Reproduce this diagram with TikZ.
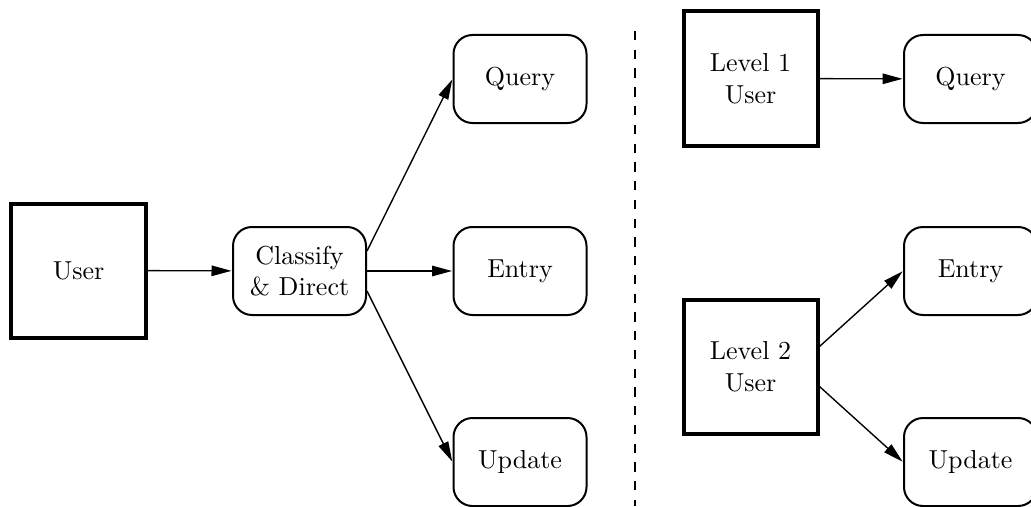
\documentclass[tikz,border=0pt]{standalone}
\usetikzlibrary{arrows.meta}
\begin{document}
\begin{tikzpicture}[x=0.4pt, y=-0.4pt,
  every node/.style={font=\fontsize{10.4}{12.7}\selectfont, align=center, inner sep=0pt},
  actor/.style={draw, line width=1.6pt, minimum width=53.6pt, minimum height=53.6pt},
  task/.style={draw, line width=0.8pt, rounded corners=7.6pt, minimum width=53.2pt, minimum height=35.2pt},
  link/.style={line width=0.55pt, -{Triangle[length=8pt, width=4.2pt]}, shorten >=0.2pt},
  divider/.style={line width=0.5pt, dash pattern=on 3.7pt off 3.8pt}]
  \useasboundingbox (0,0) rectangle (1031,506);

  % left: one user routed through a classifier
  \node[actor] (user) at (78.5,270.5) {User};
  \node[task] (cls) at (299.5,271) {Classify\\\& Direct};
  \node[task] (qL) at (520,79) {Query};
  \node[task] (eL) at (520,271) {Entry};
  \node[task] (uL) at (520,462) {Update};

  \draw[link] (user) -- (cls);
  \draw[link] ([yshift=8pt]cls.east) -- (qL.west);
  \draw[link] (cls.east) -- (eL.west);
  \draw[link] ([yshift=-8pt]cls.east) -- (uL.west);

  % separator
  \coordinate (dtop) at (635,31);
  \coordinate (dbot) at (635,506);
  \draw[divider] (dtop) -- (dbot);

  % right: user levels with their own permissions
  \node[actor] (l1) at (750.5,78.5) {Level 1\\User};
  \node[task] (qR) at (970.5,79) {Query};
  \node[actor] (l2) at (750.5,366.5) {Level 2\\User};
  \node[task] (eR) at (970.5,271) {Entry};
  \node[task] (uR) at (970.5,462) {Update};

  \draw[link] (l1) -- (qR);
  \draw[link] ([yshift=8pt]l2.east) -- (eR.west);
  \draw[link] ([yshift=-8pt]l2.east) -- (uR.west);
\end{tikzpicture}
\end{document}
